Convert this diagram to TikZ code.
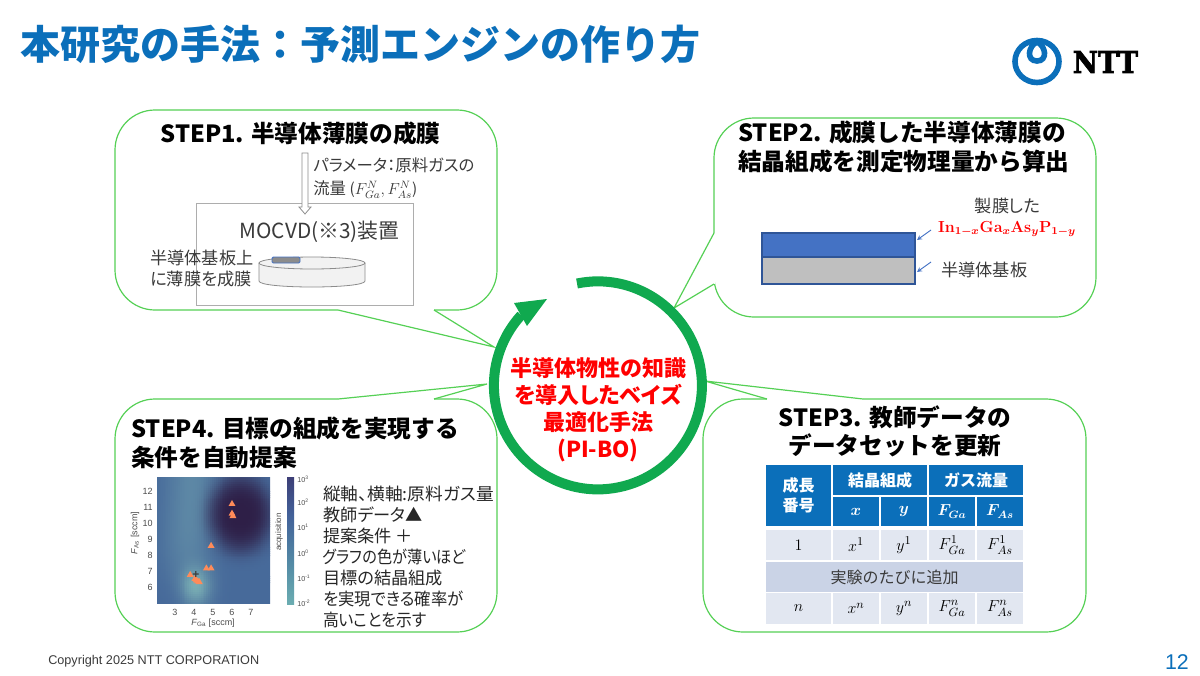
\documentclass[tikz,border=0pt]{standalone}
\usepackage{amsmath}
\usepackage[no-math]{fontspec}
\setmainfont{Noto Sans CJK JP}
\newfontfamily\propfont[RawFeature=+palt]{Noto Sans CJK JP}
\newfontfamily\plotfont{Liberation Sans}
\newfontfamily\logofont[BoldFeatures={FakeBold=2.5}]{DejaVu Serif}
\usetikzlibrary{shapes.geometric}
\definecolor{nttblue}{HTML}{0B6FBA}
\definecolor{ringgreen}{HTML}{10A94F}
\definecolor{boxgreen}{HTML}{55D055}
\definecolor{bodygray}{HTML}{3A3A3A}
\definecolor{cellpale}{HTML}{E2E7F1}
\definecolor{cellmid}{HTML}{CAD3E6}
\definecolor{filmblue}{HTML}{4472C4}
\definecolor{filmedge}{HTML}{2F5597}
\definecolor{mapmid}{HTML}{476A9A}
\definecolor{maplight}{HTML}{8FCBBF}
\definecolor{mapdark}{HTML}{2E1F47}
\pgfdeclareverticalshading{acqbar}{100bp}{rgb(0bp)=(.66,.86,.78); rgb(20bp)=(.45,.72,.71); rgb(40bp)=(.33,.55,.65); rgb(60bp)=(.26,.38,.60); rgb(80bp)=(.23,.20,.42); rgb(100bp)=(.17,.11,.24)}
\begin{document}
\begin{tikzpicture}[
    x=0.75pt, y=-0.75pt,
    callout/.style={draw=boxgreen, line width=0.9pt, rounded corners=30pt},
    tailcover/.style={draw=white, line width=1.6pt},
    tailedge/.style={draw=boxgreen, line width=0.9pt, line join=miter},
    steptitle/.style={font=\fontsize{17.75}{21.75}\selectfont\bfseries, text=black, inner sep=0pt, align=left},
    bodytext/.style={font=\propfont\fontsize{12.9}{15.8}\selectfont, text=bodygray, inner sep=0pt, align=left},
    smalltext/.style={font=\propfont\fontsize{12.3}{17.25}\selectfont, text=bodygray, inner sep=0pt, align=left},
    tblcell/.style 2 args={fill=#1, minimum width=#2, inner sep=0pt, font=\fontsize{12.5}{15}\selectfont},
    tblhead/.style={tblcell={nttblue}{#1}, text=white, font=\fontsize{12}{15}\selectfont\bfseries, align=center},
    ticklabel/.style={font=\plotfont\fontsize{6.75}{8}\selectfont, text=black!70, inner sep=0pt},
    barlabel/.style={font=\plotfont\fontsize{5.4}{6}\selectfont, text=black!70, inner sep=0pt, anchor=west},
    datamark/.style={regular polygon, regular polygon sides=3, fill=orange!60!red!65!white, minimum size=6pt, inner sep=0pt},
    thinarrow/.style={draw=filmblue, line width=0.7pt, ->, >=stealth},
    declare function={sq(\a)=\a*\a;}
    ]
    \useasboundingbox (0,0) rectangle (1200,675);
    \node[anchor=west, inner sep=0pt, text=nttblue, font=\fontsize{30}{36}\selectfont\bfseries] (title) at (20,44) {本研究の手法：予測エンジンの作り方};

    % logo
    \draw[nttblue, line width=4.2pt] (1037,61.5) ellipse[x radius=22, y radius=21];
    \draw[nttblue, line width=4.2pt] (1037,42) .. controls (1028,46) and (1026,61) .. (1037,61) .. controls (1048,61) and (1046,46) .. (1037,42) -- cycle;
    \node[inner sep=0pt, font=\logofont\fontsize{22.5}{24}\selectfont\bfseries, xscale=.92] (logotext) at (1105.5,62) {NTT};

    % callouts
    \draw[callout] (115,110) rectangle (497,310);
    \draw[tailcover] (338,310) -- (434,310);
    \draw[tailedge] (338,310) -- (494,347) -- (434,310);
    \draw[callout] (714,118) rectangle (1096,317);
    \draw[tailcover] (714,233) -- (714,284);
    \draw[tailedge] (714,233) -- (674,308) -- (714,284);
    \draw[callout] (703,399) rectangle (1086,632);
    \draw[tailcover] (767,399) -- (863,399);
    \draw[tailedge] (767,399) -- (705,381) -- (863,399);
    \draw[callout] (115,399) rectangle (497,632);
    \draw[tailcover] (338,399) -- (434,399);
    \draw[tailedge] (338,399) -- (487,384) -- (434,399);

    % STEP1
    \node[steptitle] (stepone) at (300.5,133) {STEP1. 半導体薄膜の成膜};
    \draw[black!32, line width=0.75pt] (196,203) rectangle (413,305);
    \draw[black!45, fill=white, line width=0.6pt] (302,153) -- (308,153) -- (308,207) -- (311,207) -- (305,214) -- (299,207) -- (302,207) -- cycle;
    \node[smalltext, anchor=north west] (gasparam) at (313,157.5) {パラメータ：原料ガスの\\流量 {\fontsize{11.5}{17.25}\selectfont($F^{N}_{Ga},F^{N}_{As}$)}};
    \node[inner sep=0pt, text=bodygray, font=\fontsize{15.6}{18}\selectfont] (mocvd) at (319.5,232) {MOCVD(※3)装置};
    \draw[black!45, fill=black!5, line width=0.6pt] (259,263) -- (259,281) .. controls (259,289) and (365,289) .. (365,281) -- (365,263);
    \draw[black!45, fill=black!5, line width=0.6pt] (312,263) ellipse[x radius=53, y radius=6];
    \draw[filmblue, fill=black!45, line width=0.7pt, rounded corners=1pt] (272,257) rectangle (300,263);
    \node[bodytext, anchor=west] (substrate) at (150,268.5) {半導体基板上\\に薄膜を成膜};

    % STEP2
    \node[steptitle, anchor=north west] (steptwo) at (738,120.5) {STEP2. 成膜した半導体薄膜の\\結晶組成を測定物理量から算出};
    \fill[black!25] (762,257) rectangle (915,284);
    \fill[filmblue] (762,233) rectangle (915,257);
    \draw[filmedge, line width=0.9pt] (762,233) rectangle (915,284);
    \draw[filmedge, line width=0.9pt] (762,257) -- (915,257);
    \coordinate (filmfrom) at (931,230);
    \coordinate (filmto) at (917,240);
    \coordinate (basefrom) at (931,262);
    \coordinate (baseto) at (917,272);
    \draw[thinarrow] (filmfrom) -- (filmto);
    \draw[thinarrow] (basefrom) -- (baseto);
    \node[bodytext] (filmlabel) at (1007.5,206) {製膜した};
    \node[inner sep=0pt, text=red, font=\fontsize{11.6}{13}\selectfont] (formula) at (1007,229) {$\mathbf{In}_{\boldsymbol{1-x}}\mathbf{Ga}_{\boldsymbol{x}}\mathbf{As}_{\boldsymbol{y}}\mathbf{P}_{\boldsymbol{1-y}}$};
    \node[bodytext, anchor=west] (baselabel) at (941,270) {半導体基板};

    % STEP3
    \node[steptitle, align=center, font=\fontsize{17.75}{20.5}\selectfont\bfseries] (stepthree) at (895,431.5) {STEP3. 教師データの\\データセットを更新};
    \node[tblhead=48.75pt, minimum height=45.75pt] (thead) at (798.5,495.5) {成長\\番号};
    \node[tblhead=70.5pt, minimum height=22.5pt] (tcomp) at (880,480) {結晶組成};
    \node[tblhead=70.5pt, minimum height=22.5pt] (tflow) at (976,480) {ガス流量};
    \foreach \nm/\px/\txt in {tx/856/$\boldsymbol{x}$, ty/904/$\boldsymbol{y}$, tfga/952/$\boldsymbol{F_{Ga}}$, tfas/1000/$\boldsymbol{F_{As}}$}
        \node[tblhead=34.5pt, minimum height=21.75pt] (\nm) at (\px,511.5) {\txt};
    \node[tblcell={cellpale}{48.75pt}, minimum height=22.5pt] (rowone) at (798.5,545) {$1$};
    \node[tblcell={cellpale}{48.75pt}, minimum height=23.25pt] (rown) at (798.5,608.5) {$n$};
    \foreach \nm/\px/\txt in {a/856/x, b/904/y, c/952/F_{Ga}, d/1000/F_{As}}{
        \node[tblcell={cellpale}{34.5pt}, minimum height=22.5pt] (one\nm) at (\px,545) {$\txt^{1}$};
        \node[tblcell={cellpale}{34.5pt}, minimum height=23.25pt] (last\nm) at (\px,608.5) {$\txt^{n}$};
    }
    \node[tblcell={cellmid}{192.75pt}, minimum height=22.5pt, text=bodygray, font=\fontsize{12}{15}\selectfont] (rowmid) at (894.5,577) {実験のたびに追加};

    % STEP4
    \node[steptitle, anchor=north west] (stepfour) at (131,416.5) {STEP4. 目標の組成を実現する\\条件を自動提案};
    \begin{scope}[shift={(118,684.3)}, x=14.25pt, y=12.075pt]
        \clip (2.05,5) rectangle (8,12.87);
        \foreach \u in {2.05,2.15,...,8.05}
            \foreach \v in {5,5.12,...,13}{
                \pgfmathsetmacro\dk{100-100*exp(-sq(sq((\u-6.4)/1.7)+sq((\v-10.5)/2.4)))}
                \pgfmathsetmacro\lt{100-min(100,100*(0.65*exp(-sq((\u-4.05)/0.8)-sq((\v-6)/1.2))+0.3*exp(-sq((\u-3.6-0.05*(\v-8))/1.3))*(1-exp(-sq(max(\v-5,0)/2.5)))))}
                \fill[mapmid!\lt!maplight!\dk!mapdark] (\u,\v) rectangle (\u+.12,\v+.14);
            }
        \foreach \px/\py in {6/11.2, 6/10.6, 6.05/10.45, 4.9/8.6, 4.65/7.2, 4.9/7.2, 3.8/6.8, 4.05/6.55, 4.12/6.45, 4.2/6.4, 4.28/6.35}
            \node[datamark] at (\px,\py) {};
        \node[inner sep=0pt, text=black!75, font=\plotfont\bfseries\fontsize{9}{9}\selectfont] (proposal) at (4.1,6.8) {+};
    \end{scope}
    \foreach \t [evaluate=\t as \tx using 175+19*(\t-3)] in {3,...,7}
        \node[ticklabel] (xt\t) at (\tx,612) {\t};
    \foreach \t [evaluate=\t as \ty using 587.7-16.1*(\t-6)] in {6,...,12}
        \node[ticklabel, anchor=east] (yt\t) at (153,\ty) {\t};
    \node[ticklabel] (xlabel) at (213,623) {\textit{F}\textsubscript{Ga} [sccm]};
    \node[ticklabel, rotate=90] (ylabel) at (135,533) {\textit{F}\textsubscript{As} [sccm]};
    \shade[shading=acqbar] (287,477) rectangle (294,604);
    \foreach \e/\py in {3/479, 2/502, 1/527, 0/553, -1/578, -2/603}
        \node[barlabel] (bar\e) at (297,\py) {10\textsuperscript{\e}};
    \node[ticklabel, rotate=90, font=\plotfont\fontsize{6}{7}\selectfont] (barname) at (279,532) {acquisition};
    \node[bodytext, anchor=north west, font=\propfont\fontsize{12.9}{15.75}\selectfont, text=black!85] (legendtext) at (323,485.5) {\scalebox{1.03}[1]{縦軸、横軸:原料ガス量}\\教師データ▲\\提案条件 ＋\\\scalebox{.88}[1]{グラフの色が薄いほど}\\目標の結晶組成\\\scalebox{.95}[1]{を実現できる確率が}\\\scalebox{.92}[1]{高いことを示す}};

    % centre ring
    \coordinate (ringcentre) at (598,385.5);
    \draw[ringgreen, line width=7.5pt] (577,283.5) arc[start angle=258.4, end angle=582.5, radius=104];
    \fill[ringgreen] (547,299) -- (514,303) -- (527,326) -- cycle;
    \node[inner sep=0pt, text=red, align=center, font=\fontsize{16.5}{20.3}\selectfont\bfseries] (method) at (598,409.5) {半導体物性の知識\\{\propfont を導入したベイズ}\\最適化手法\\(PI-BO)};

    % footer
    \node[anchor=west, inner sep=0pt, text=bodygray, font=\plotfont\fontsize{9.5}{11}\selectfont] (copyright) at (48,661) {Copyright 2025 NTT CORPORATION};
    \node[anchor=east, inner sep=0pt, text=nttblue, font=\plotfont\fontsize{16}{18}\selectfont] (pagenum) at (1189,662) {12};
\end{tikzpicture}
\end{document}
